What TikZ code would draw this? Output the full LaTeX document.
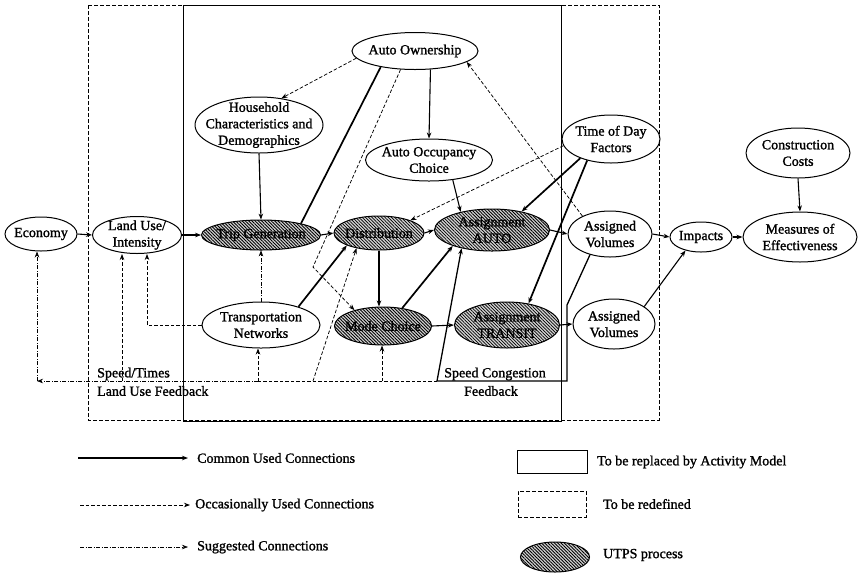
\documentclass[tikz,border=0pt]{standalone}
\usepackage{fontspec}
\setmainfont{Liberation Serif}
\newfontfamily\dgfont{Liberation Serif}[FakeBold=1.4]
\usetikzlibrary{shapes.geometric,arrows.meta,patterns.meta}

\begin{document}
\begin{tikzpicture}[x=1pt,y=-1pt,
  every node/.style={font=\dgfont\fontsize{14}{16.5}\selectfont},
  ellbase/.style={ellipse, draw, line width=1pt, inner xsep=-30pt, inner ysep=-15pt, align=center},
  el/.style={ellbase, fill=white},
  utps/.style={ellbase, preaction={fill=gray!35}, pattern={Lines[angle=-45,distance=2.3pt,line width=0.8pt]}},
  lbl/.style={inner sep=0pt},
  tipA/.style={-{Stealth[length=6pt,width=4.5pt]}},
  common/.style={draw, line width=1.1pt, tipA},
  heavy/.style={common, line width=1.7pt},
  occas/.style={draw, line width=0.75pt, dash pattern=on 3.5pt off 2pt, tipA},
  sugg/.style={draw, line width=0.6pt, dash pattern=on 4pt off 1.5pt on 1pt off 1.5pt, tipA},
  framebox/.style={draw, line width=0.8pt},
  framedash/.style={draw, line width=0.7pt, dash pattern=on 4pt off 2pt}
]
\useasboundingbox (0,0) rectangle (858,574);

% frames
\draw[framedash] (88,5) rectangle (659,420);
\draw[framebox] (183,5) rectangle (561,421);

% nodes
\node[el, minimum width=72pt, minimum height=34pt] (econ) at (41,234) {Economy};
\node[el, minimum width=89pt, minimum height=37pt] (landuse) at (137,235) {Land Use/\\Intensity};
\node[utps, minimum width=119pt, minimum height=30pt] (tripgen) at (261,235) {Trip Generation};
\node[utps, minimum width=90pt, minimum height=34pt] (dist) at (379,233) {Distribution};
\node[utps, minimum width=115pt, minimum height=42pt] (auto) at (492,230) {Assignment\\AUTO};
\node[el, minimum width=84pt, minimum height=46pt] (av1) at (610,234) {Assigned\\Volumes};
\node[el, minimum width=62pt, minimum height=30pt] (impacts) at (701,237) {Impacts};
\node[el, minimum width=114pt, minimum height=50pt] (moe) at (800,237) {Measures of\\Effectiveness};
\node[el, minimum width=104pt, minimum height=50pt] (cc) at (798,153) {Construction\\Costs};
\node[el, minimum width=98pt, minimum height=48pt] (tod) at (611,139) {Time of Day\\Factors};
\node[el, minimum width=126pt, minimum height=37pt] (ao) at (415,51) {Auto Ownership};
\node[el, minimum width=128pt, minimum height=56pt] (hh) at (259,125) {Household\\Characteristics and\\Demographics};
\node[el, minimum width=127pt, minimum height=42pt] (aoc) at (429,160) {Auto Occupancy\\Choice};
\node[el, minimum width=118pt, minimum height=46pt] (tn) at (261,325) {Transportation\\Networks};
\node[utps, minimum width=97pt, minimum height=38pt] (mode) at (383,326) {Mode Choice};
\node[utps, minimum width=105pt, minimum height=46pt] (transit) at (507,325) {Assignment\\TRANSIT};
\node[el, minimum width=82pt, minimum height=50pt] (av2) at (614,324) {Assigned\\Volumes};

% coordinates
\coordinate (sc1) at (567,305);
\coordinate (sc2) at (567,381);
\coordinate (sc3) at (437,381);
\coordinate (fbE) at (37,381);
\coordinate (fbL) at (122,381);
\coordinate (fbT) at (258,381);
\coordinate (fbD) at (313,381);
\coordinate (fbM) at (382,381);
\coordinate (tl) at (147,325);
\coordinate (bend) at (313,267);

% common connections
\draw[common] (econ.east) -- (landuse.west);
\draw[common] (landuse.east) -- (tripgen.west);
\draw[common] (hh.south) -- (tripgen.north);
\draw[common] (tripgen.east) -- (dist.west);
\draw[common] (dist.east) -- (auto.west);
\draw[common] (dist.south) -- (dist.south |- mode.north);
\draw[common] (mode.east) -- (transit.west);
\draw[heavy] (mode.43) -- (auto.202);
\draw[common] (ao.-50) -- (aoc.north);
\draw[heavy, -] (ao.205) -- (tripgen.16);
\draw[heavy] (tn.26) -- (dist.201);
\draw[common] (auto.east) -- (av1.west);
\draw[common] (transit.east) -- (av2.west);
\draw[common] (av1.east) -- (impacts.west);
\draw[common] (av2.30) -- (impacts.221);
\draw[common] (impacts.east) -- (moe.west);
\draw[common] (cc.south) -- (moe.north);
\draw[heavy] (tod.212) -- (auto.32);
\draw[heavy] (tod.222) -- (transit.45);
\draw[common] (aoc.-40) -- (auto.150);
\draw[common, line width=1.3pt] (av1.226) -- (sc1) -- (sc2) -- (sc3) -- (auto.211);

% occasionally used / suggested
\draw[occas, -] (sc3) -- (fbT);
\draw[sugg] (fbT) -- (fbE);
\draw[sugg] (fbE) -- (fbE |- econ.south);
\draw[occas] (fbL) -- (fbL |- landuse.south);
\draw[occas] (fbT) -- (fbT |- tn.south);
\draw[occas] (fbD) -- (dist.214);
\draw[occas] (fbM) -- (fbM |- mode.south);
\draw[occas] (tn.west) -- (tl) -- (tl |- landuse.south);
\draw[occas] (ao.187) -- (hh.50);
\draw[occas] (tod.188) -- (dist.22);
\draw[occas] (ao.232) -- (bend) -- (mode.151);
\draw[occas] (av1.147) -- (ao.-12);
\draw[sugg] (tn.north) -- (tripgen.south);

% labels
\node[lbl, anchor=west] (lblST) at (97,374) {Speed/Times};
\node[lbl, anchor=west] (lblLU) at (97,391) {Land Use Feedback};
\node[lbl] (lblSC) at (495,374) {Speed Congestion};
\node[lbl] (lblFB) at (491,391) {Feedback};

% legend
\coordinate (l1a) at (78,458);
\coordinate (l1b) at (188,458);
\coordinate (l2a) at (80,505);
\coordinate (l2b) at (190,505);
\coordinate (l3a) at (80,547);
\coordinate (l3b) at (188,547);
\draw[common] (l1a) -- (l1b);
\draw[occas] (l2a) -- (l2b);
\draw[sugg] (l3a) -- (l3b);
\node[lbl, anchor=west] (t1) at (197,458) {Common Used Connections};
\node[lbl, anchor=west] (t2) at (195,505) {Occasionally Used Connections};
\node[lbl, anchor=west] (t3) at (197,547) {Suggested Connections};

\node[framebox, minimum width=70pt, minimum height=23pt, inner sep=0pt] (lgA) at (552,461.5) {};
\node[framedash, minimum width=68pt, minimum height=26pt, inner sep=0pt] (lgB) at (552,504) {};
\node[utps, minimum width=69pt, minimum height=30pt] (lgC) at (555,557) {};
\node[lbl, anchor=west] (t4) at (597,462) {To be replaced by Activity Model};
\node[lbl, anchor=west] (t5) at (603,504) {To be redefined};
\node[lbl, anchor=west] (t6) at (603,555) {UTPS process};
\end{tikzpicture}
\end{document}
